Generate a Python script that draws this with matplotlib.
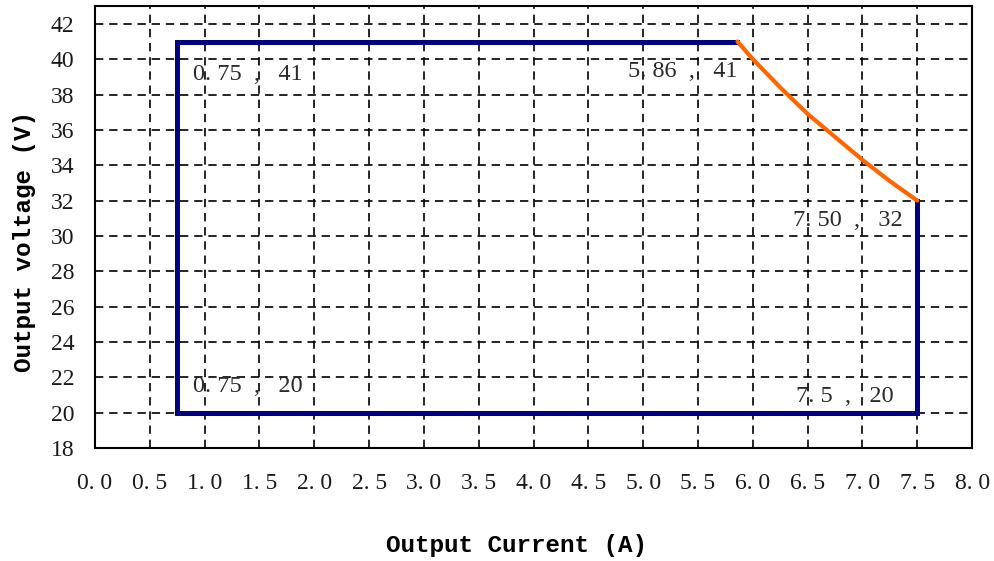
import matplotlib
matplotlib.use("Agg")
import matplotlib.pyplot as plt

# ----- Daten -----
# Grenzlinien (blau): Rechteck-Anteil der Kennlinie
box_x = [5.86, 0.75, 0.75, 7.5, 7.5]
box_y = [41, 41, 20, 20, 32]
# Leistungsbegrenzung (orange)
curve_x = [5.86, 6.0, 6.25, 6.5, 6.75, 7.0, 7.25, 7.5]
curve_y = [41, 40.0, 38.4, 36.9, 35.6, 34.3, 33.1, 32]

x_ticks = [0.0, 0.5, 1.0, 1.5, 2.0, 2.5, 3.0, 3.5, 4.0, 4.5, 5.0, 5.5, 6.0, 6.5, 7.0, 7.5, 8.0]
y_ticks = [18, 20, 22, 24, 26, 28, 30, 32, 34, 36, 38, 40, 42]

# Beschriftungen der Eckpunkte (x, y, text, ausrichtung)
labels = [
    (0.89, 39.15, "0. 75  ,   41", "left"),
    (5.86, 39.3, "5. 86  ,   41", "right"),
    (7.37, 30.85, "7. 50  ,   32", "right"),
    (0.89, 21.48, "0. 75  ,   20", "left"),
    (7.28, 20.9, "7. 5  ,   20", "right"),
]

SERIF = "Liberation Serif"
MONO = "Liberation Mono"

fig = plt.figure(figsize=(9.95, 5.61), dpi=100)
ax = fig.add_axes([0.0955, 0.2014, 0.8815, 0.7876])

ax.plot(box_x, box_y, color="#000080", lw=3.6, solid_joinstyle="miter", zorder=3)
ax.plot(curve_x, curve_y, color="#FF6600", lw=3.0, solid_capstyle="round", zorder=3)

for x, y, txt, ha in labels:
    ax.text(x, y, txt, ha=ha, va="center", fontsize=17.5, family=SERIF, color="#2a2a2a", zorder=4)

ax.set_xlim(0, 8)
ax.set_ylim(18, 43)
ax.set_xticks(x_ticks)
ax.set_yticks(y_ticks)
ax.set_xticklabels([f"{v:.1f}".replace(".", ". ") for v in x_ticks], family=SERIF, fontsize=17)
ax.set_yticklabels([str(v) for v in y_ticks], family=SERIF, fontsize=17)
ax.tick_params(axis="both", length=0, colors="#1a1a1a")
ax.tick_params(axis="x", pad=18)
ax.tick_params(axis="y", pad=15)

ax.grid(True, color="black", linestyle=(0, (5, 3.5)), lw=1.2)
ax.set_axisbelow(True)
for s in ax.spines.values():
    s.set_linewidth(1.5)

ax.set_xlabel("Output Current (A)", family=MONO, fontweight="bold", fontsize=17.5, va="center")
ax.xaxis.set_label_coords(0.48, -0.22)
ax.set_ylabel("Output voltage (V)", family=MONO, fontweight="bold", fontsize=17.5, va="center", ha="center")
ax.yaxis.set_label_coords(-0.08, 0.468)

plt.savefig("out.png", dpi=100)
